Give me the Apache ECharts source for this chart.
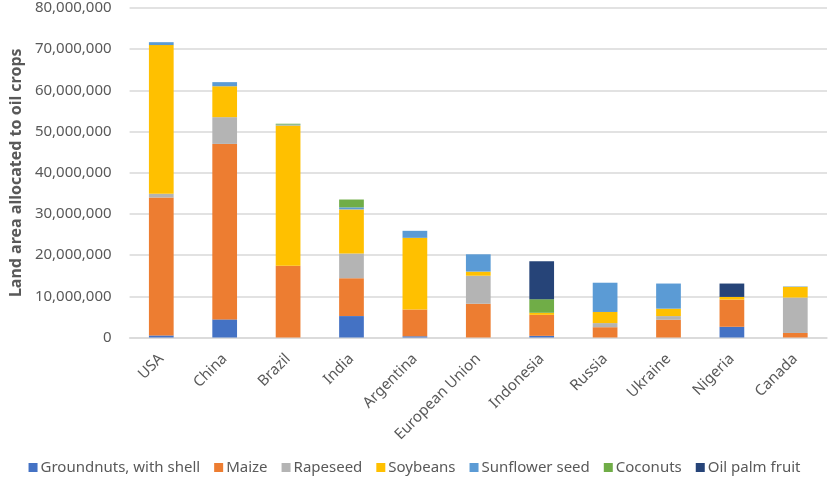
<!DOCTYPE html>
<html>
<head>
<meta charset="utf-8">
<script src="https://cdn.jsdelivr.net/npm/echarts@6/dist/echarts.min.js"></script>
<style>html,body{margin:0;padding:0;background:#fff}#c{width:829px;height:487px}</style>
</head>
<body>
<div id="c"></div>
<script>
const categories = ["USA","China","Brazil","India","Argentina","European Union","Indonesia","Russia","Ukraine","Nigeria","Canada"];
const groundnuts = [500000,4400000,0,5200000,300000,0,400000,0,0,2600000,0];
const maize      = [33500000,42600000,17400000,9200000,6500000,8200000,5100000,2500000,4300000,6600000,1100000];
const rapeseed   = [900000,6500000,0,6000000,0,6800000,0,1000000,900000,0,8600000];
const soybeans   = [36100000,7500000,34100000,10700000,17400000,1000000,500000,2700000,1800000,650000,2600000];
const sunflower  = [700000,1000000,200000,500000,1700000,4200000,0,7100000,6100000,0,100000];
const coconuts   = [0,0,200000,1900000,0,0,3300000,0,0,0,0];
const oilPalm    = [0,0,0,0,0,0,9200000,0,0,3250000,0];
const yTicks = [0,10000000,20000000,30000000,40000000,50000000,60000000,70000000,80000000];

const seriesDefs = [
  ["Groundnuts, with shell", groundnuts, "#4472C4"],
  ["Maize", maize, "#ED7D31"],
  ["Rapeseed", rapeseed, "#B4B4B4"],
  ["Soybeans", soybeans, "#FFC000"],
  ["Sunflower seed", sunflower, "#5B9BD5"],
  ["Coconuts", coconuts, "#70AD47"],
  ["Oil palm fruit", oilPalm, "#264478"]
];
const font = "'Noto Sans', 'Open Sans', sans-serif";
const chart = echarts.init(document.getElementById('c'));
chart.setOption({
  animation: false,
  textStyle: {fontFamily: font},
  grid: {left: 124, right: 2, top: 8, bottom: 149.5, containLabel: false},
  legend: {
    bottom: 7, left: 'center',
    itemWidth: 9, itemHeight: 9, itemGap: 14,
    icon: 'rect',
    textStyle: {fontSize: 15, color: '#595959', fontFamily: font, padding: [0,0,0,-2]},
    data: seriesDefs.map(s => s[0])
  },
  xAxis: {
    type: 'category', data: categories,
    axisLine: {lineStyle: {color: '#D9D9D9', width: 1.5}},
    axisTick: {show: false},
    axisLabel: {rotate: 45, fontSize: 15, color: '#595959', margin: 19, interval: 0}
  },
  yAxis: {
    type: 'value', min: 0, max: 80000000, interval: 10000000,
    name: 'Land area allocated to oil crops', nameLocation: 'middle', nameGap: 104,
    nameTextStyle: {fontSize: 16, fontWeight: 'bold', color: '#595959'},
    axisLine: {show: false}, axisTick: {show: false},
    splitLine: {lineStyle: {color: '#D9D9D9', width: 1.5}},
    axisLabel: {fontSize: 15, color: '#595959', margin: 18,
      formatter: v => yTicks.includes(v) ? v.toLocaleString('en-US') : ''}
  },
  series: seriesDefs.map(s => ({
    name: s[0], type: 'bar', stack: 'total', data: s[1], barWidth: '39%',
    itemStyle: {color: s[2]}
  }))
});
</script>
</body>
</html>
